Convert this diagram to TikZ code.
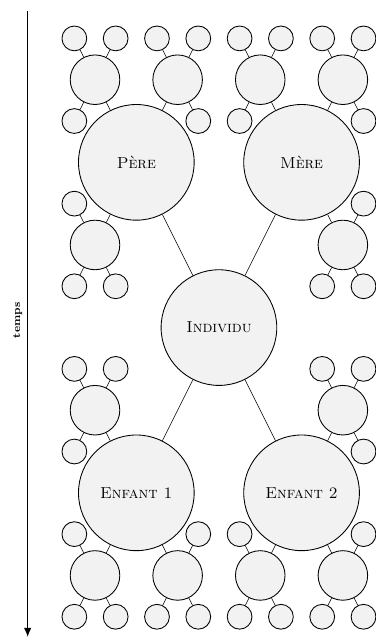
\documentclass[tikz,border=0pt]{standalone}
\usetikzlibrary{arrows.meta}
\begin{document}
\begin{tikzpicture}[pers/.style={circle,draw,semithick,fill=gray!10,inner sep=0pt,
    font=\fontsize{10.95pt}{13.6pt}\selectfont},
  g0/.style={pers,minimum size=2.8cm},
  g1/.style={pers,minimum size=1.2cm},
  g2/.style={pers,minimum size=0.6cm}]
\useasboundingbox (-5.30,-7.49) rectangle (3.78,7.93);
% individu et premiere generation
\node[g0] (I) at (0,0) {\textsc{Individu}};
\node[g0] (P) at (-2,4) {\textsc{Père}};
\node[g0] (M) at (2,4) {\textsc{Mère}};
\node[g0] (E1) at (-2,-4) {\textsc{Enfant 1}};
\node[g0] (E2) at (2,-4) {\textsc{Enfant 2}};
\foreach \n in {P,M,E1,E2} \draw (I) -- (\n);
% generations suivantes
\foreach \n/\sx/\sy in {P/-1/1,M/1/1,E1/-1/-1,E2/1/-1} {
  \foreach \a/\b [count=\i] in {1/1,-1/1,1/-1} {
    \pgfmathsetmacro\tx{(\sx)*(\a)}
    \pgfmathsetmacro\ty{(\sy)*(\b)}
    \pgfmathsetmacro\mx{2*(\sx)+(\tx)}
    \pgfmathsetmacro\my{4*(\sy)+2*(\ty)}
    \node[g1] (\n-\i) at (\mx,\my) {};
    \draw (\n) -- (\n-\i);
    \foreach \c/\d [count=\j] in {1/1,-1/1,1/-1} {
      \node[g2] (\n-\i-\j) at ({\mx+0.5*(\tx)*(\c)},{\my+(\ty)*(\d)}) {};
      \draw (\n-\i) -- (\n-\i-\j);
    }
  }
}
% axe du temps
\coordinate (t0) at (-4.63,7.66);
\coordinate (t1) at (-4.63,-7.49);
\draw[thick,-{Latex[length=2.2mm,width=1.8mm]}] (t0) -- (t1)
  node[midway,above=2.5pt,rotate=90,font=\fontsize{7.6pt}{9pt}\bfseries\selectfont] {temps};
\end{tikzpicture}
\end{document}
